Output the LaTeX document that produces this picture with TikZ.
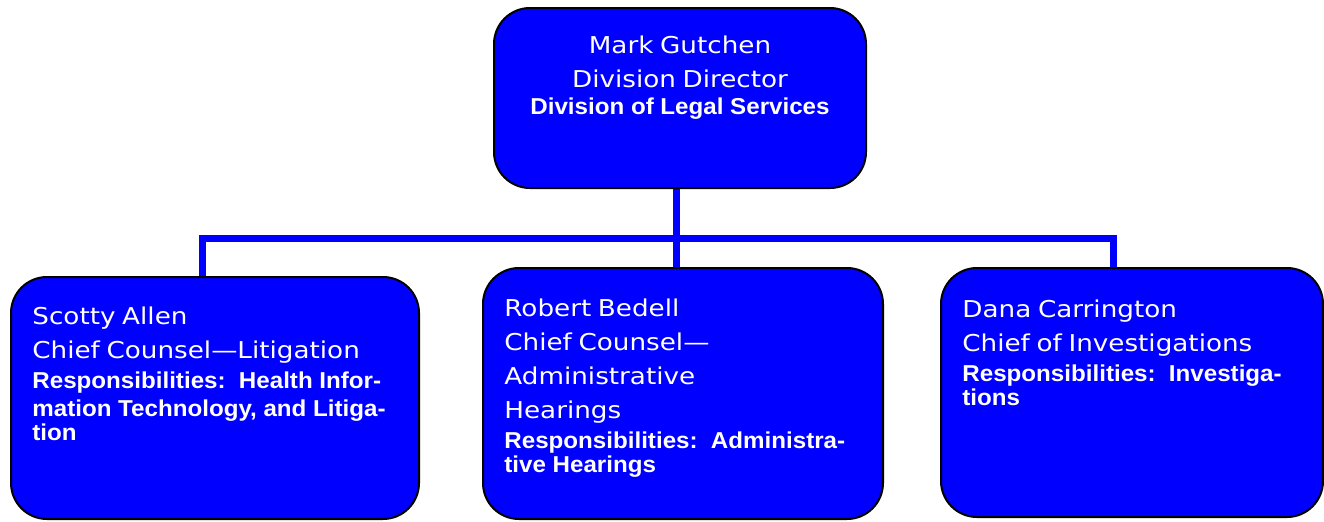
\documentclass[tikz,border=0pt]{standalone}
\usepackage{fontspec}
\usepackage{xcolor}
\usetikzlibrary{positioning, calc, backgrounds}
\newfontfamily\regfont[FakeStretch=1.13]{DejaVu Sans}
\newfontfamily\headfont[FakeStretch=1.05]{Liberation Sans}
\newcommand{\regtext}{\regfont\fontsize{11.6}{17}\selectfont}
\newcommand{\resptext}{\par\vspace{1.5pt}\headfont\bfseries\fontsize{11.5}{13.8}\selectfont}
\definecolor{orgblue}{RGB}{0,0,255}

\tikzset{
  orgbox/.style={draw=black, line width=1pt, fill=orgblue, rounded corners=18pt},
  orgline/.style={draw=orgblue, line width=3.5pt},
  nametext/.style={text=white, inner sep=0pt, anchor=north west, align=left,
    text width=195pt}
}

\begin{document}
\begin{tikzpicture}[x=0.5pt, y=-0.5pt]
  \useasboundingbox (0,0) rectangle (1324,521);

  % Director box
  \node[orgbox, minimum width=186pt, minimum height=90pt] (director) at (680,98) {};
  \node[nametext, anchor=north, align=center, text width=180pt] (directortext)
    at (680,35) {\regtext Mark Gutchen\\Division Director%
    \resptext Division of Legal Services};

  % Boxes of the three chiefs
  \node[orgbox, minimum width=204pt, minimum height=121pt] (allen) at (215,398) {};
  \node[orgbox, minimum width=200pt, minimum height=125.5pt] (bedell) at (683,393.5) {};
  \node[orgbox, minimum width=191pt, minimum height=124.5pt] (carrington) at (1132,392.5) {};

  \node[nametext] (allentext) at (32,306)
    {\regtext Scotty Allen\\Chief Counsel—Litigation%
    \resptext Responsibilities:\ \ Health Infor-\\mation Technology, and Litiga-\\tion};
  \node[nametext] (bedelltext) at (504,298)
    {\regtext Robert Bedell\\Chief Counsel—\\Administrative\\Hearings%
    \resptext Responsibilities:\ \ Administra-\\tive Hearings};
  \node[nametext] (carringtontext) at (962,299)
    {\regtext Dana Carrington\\Chief of Investigations%
    \resptext Responsibilities:\ \ Investiga-\\tions};

  % Connectors
  \coordinate (barleft) at (202,238);
  \coordinate (barright) at (1113,238);
  \begin{scope}[on background layer]
    \draw[orgline] ([xshift=-2pt]director.south)
      -- ([xshift=-2pt]director.south |- bedell.north);
    \draw[orgline] (allen.north -| barleft) -- (barleft) -- (barright)
      -- (barright |- carrington.north);
  \end{scope}
\end{tikzpicture}
\end{document}
